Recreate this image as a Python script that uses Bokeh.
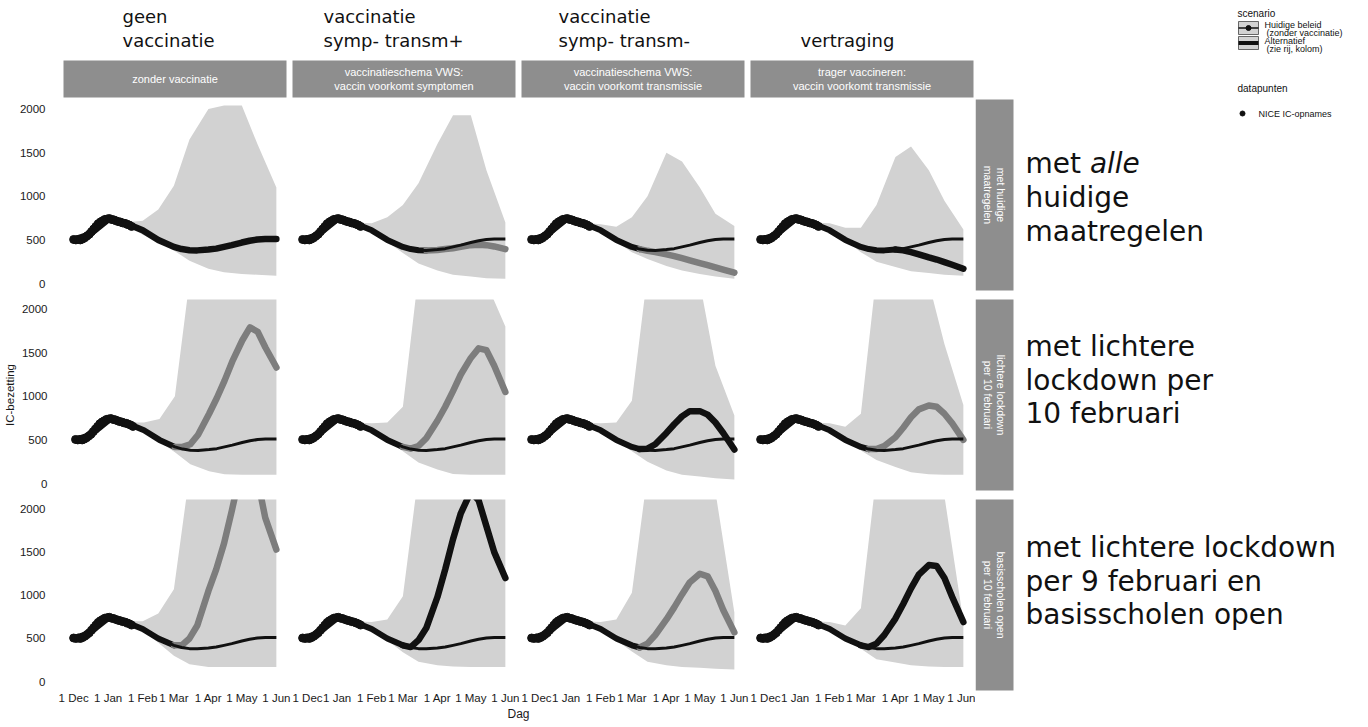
import numpy as np
import pandas as pd
from bokeh.plotting import figure
from bokeh.layouts import row, column
from bokeh.models import Range1d, FixedTicker
from bokeh.core.properties import value
from bokeh.embed import file_html
from bokeh.resources import INLINE

# ---------------- data ----------------
ORIGIN = pd.Timestamp("2020-12-01")

tick_dates = ["2020-12-01", "2021-01-01", "2021-02-01", "2021-03-01", "2021-04-01", "2021-05-01", "2021-06-01"]
tick_labels = ["1 Dec", "1 Jan", "1 Feb", "1 Mar", "1 Apr", "1 May", "1 Jun"]
y_ticks = [0, 500, 1000, 1500, 2000]

col_titles_1 = ["geen", "vaccinatie", "vaccinatie", ""]
col_titles_2 = ["vaccinatie", "symp- transm+", "symp- transm-", "vertraging"]
col_strips = ["zonder vaccinatie",
              "vaccinatieschema VWS:\nvaccin voorkomt symptomen",
              "vaccinatieschema VWS:\nvaccin voorkomt transmissie",
              "trager vaccineren:\nvaccin voorkomt transmissie"]
row_strips = ["met huidige\nmaatregelen",
              "lichtere lockdown\nper 10 februari",
              "basisscholen open\nper 10 februari"]

# model curve dates
grid_dates = ["2020-12-01", "2020-12-15", "2021-01-01", "2021-01-15", "2021-02-01", "2021-02-15",
              "2021-03-01", "2021-03-08", "2021-03-15", "2021-03-22", "2021-04-01", "2021-04-08",
              "2021-04-15", "2021-04-22", "2021-05-01", "2021-05-08", "2021-05-15", "2021-05-22",
              "2021-06-01"]
baseline = [500, 560, 735, 700, 610, 500, 420, 395, 382, 380, 390, 400, 420, 440, 470, 490, 505, 510, 510]

alt_r1c1 = [500, 560, 735, 700, 610, 500, 420, 395, 382, 380, 390, 400, 420, 440, 470, 490, 505, 510, 510]
alt_r1c2 = [500, 560, 735, 700, 610, 500, 420, 395, 382, 380, 385, 395, 405, 420, 440, 445, 440, 425, 395]
alt_r1c3 = [500, 560, 735, 700, 610, 500, 420, 395, 375, 360, 335, 315, 290, 265, 235, 210, 185, 160, 125]
alt_r1c4 = [500, 560, 735, 700, 610, 500, 420, 395, 382, 380, 390, 380, 360, 335, 300, 275, 245, 215, 170]
alt_r2c1 = [500, 560, 735, 700, 610, 500, 420, 420, 450, 560, 800, 980, 1180, 1400, 1640, 1790, 1740, 1560, 1330]
alt_r2c2 = [500, 560, 735, 700, 610, 500, 420, 400, 430, 520, 720, 880, 1060, 1250, 1440, 1550, 1530, 1350, 1050]
alt_r2c3 = [500, 560, 735, 700, 610, 500, 420, 395, 400, 450, 580, 680, 770, 830, 830, 790, 700, 580, 390]
alt_r2c4 = [500, 560, 735, 700, 610, 500, 420, 395, 395, 430, 530, 640, 760, 850, 895, 880, 800, 690, 500]
alt_r3c1 = [500, 560, 735, 700, 610, 500, 420, 420, 500, 650, 1050, 1300, 1600, 1980, 2500, 2700, 2350, 1900, 1530]
alt_r3c2 = [500, 560, 735, 700, 610, 500, 420, 400, 480, 620, 980, 1300, 1650, 1950, 2200, 2100, 1800, 1500, 1200]
alt_r3c3 = [500, 560, 735, 700, 610, 500, 420, 395, 440, 540, 720, 860, 1010, 1150, 1250, 1220, 1050, 830, 570]
alt_r3c4 = [500, 560, 735, 700, 610, 500, 420, 400, 440, 540, 730, 900, 1080, 1240, 1350, 1340, 1200, 980, 690]

# uncertainty band
band_dates = ["2021-01-15", "2021-02-01", "2021-02-15", "2021-03-01", "2021-03-15",
              "2021-04-01", "2021-04-15", "2021-05-01", "2021-05-15", "2021-06-01"]
hi_r1c1 = [700, 720, 850, 1120, 1650, 2000, 2040, 2040, 1600, 1100]
lo_r1c1 = [690, 560, 470, 380, 260, 170, 130, 110, 100, 90]
hi_r1c2 = [700, 690, 760, 900, 1150, 1600, 1930, 1930, 1300, 700]
lo_r1c2 = [690, 600, 480, 350, 230, 150, 100, 80, 60, 55]
hi_r1c3 = [700, 680, 650, 760, 1000, 1500, 1400, 1100, 800, 660]
lo_r1c3 = [690, 600, 480, 360, 280, 200, 150, 110, 80, 55]
hi_r1c4 = [700, 690, 640, 640, 900, 1450, 1570, 1300, 950, 620]
lo_r1c4 = [690, 620, 500, 360, 250, 190, 140, 120, 100, 90]
hi_r2c1 = [700, 700, 740, 1000, 2400, 2500, 2500, 2500, 2500, 2500]
lo_r2c1 = [690, 600, 480, 360, 220, 140, 105, 100, 100, 100]
hi_r2c2 = [700, 690, 700, 880, 2400, 2500, 2500, 2500, 2300, 1800]
lo_r2c2 = [690, 610, 490, 370, 240, 160, 110, 100, 100, 100]
hi_r2c3 = [700, 690, 700, 950, 2400, 2500, 2500, 2300, 1350, 780]
lo_r2c3 = [690, 610, 490, 370, 250, 150, 100, 80, 60, 45]
hi_r2c4 = [700, 690, 650, 800, 2400, 2500, 2500, 2300, 1600, 900]
lo_r2c4 = [690, 620, 500, 380, 270, 190, 130, 105, 100, 100]
hi_r3c1 = [700, 700, 790, 1070, 2400, 2500, 2500, 2500, 2500, 2500]
lo_r3c1 = [690, 590, 450, 300, 200, 170, 170, 170, 170, 170]
hi_r3c2 = [700, 690, 720, 990, 2400, 2500, 2500, 2500, 2500, 2500]
lo_r3c2 = [690, 600, 480, 340, 230, 190, 175, 170, 170, 170]
hi_r3c3 = [700, 690, 720, 1030, 2400, 2500, 2500, 2500, 2200, 800]
lo_r3c3 = [690, 600, 480, 350, 230, 190, 170, 160, 150, 140]
hi_r3c4 = [700, 690, 650, 850, 2400, 2500, 2500, 2500, 2150, 700]
lo_r3c4 = [690, 620, 500, 380, 260, 220, 190, 175, 170, 170]

# NICE IC-opnames (data points)
nice_dates = ["2020-12-01", "2020-12-03", "2020-12-05", "2020-12-07", "2020-12-09", "2020-12-11",
              "2020-12-13", "2020-12-15", "2020-12-17", "2020-12-19", "2020-12-21", "2020-12-23",
              "2020-12-25", "2020-12-27", "2020-12-29", "2020-12-31", "2021-01-02", "2021-01-04",
              "2021-01-06", "2021-01-08", "2021-01-10", "2021-01-12", "2021-01-14", "2021-01-16",
              "2021-01-18", "2021-01-20", "2021-01-22"]
nice_values = [505, 500, 505, 500, 510, 525, 545, 565, 595, 625, 655, 685, 705, 720, 735, 740,
               745, 735, 730, 720, 710, 705, 695, 690, 680, 670, 655]

alts = [[alt_r1c1, alt_r1c2, alt_r1c3, alt_r1c4],
        [alt_r2c1, alt_r2c2, alt_r2c3, alt_r2c4],
        [alt_r3c1, alt_r3c2, alt_r3c3, alt_r3c4]]
his = [[hi_r1c1, hi_r1c2, hi_r1c3, hi_r1c4],
       [hi_r2c1, hi_r2c2, hi_r2c3, hi_r2c4],
       [hi_r3c1, hi_r3c2, hi_r3c3, hi_r3c4]]
los = [[lo_r1c1, lo_r1c2, lo_r1c3, lo_r1c4],
       [lo_r2c1, lo_r2c2, lo_r2c3, lo_r2c4],
       [lo_r3c1, lo_r3c2, lo_r3c3, lo_r3c4]]

# ---------------- styles / layout ----------------
BLACK = "#111111"
GREY = "#7d7d7d"
alt_colours = [[BLACK, GREY, GREY, BLACK],
               [GREY, GREY, BLACK, GREY],
               [GREY, BLACK, GREY, BLACK]]
BAND = "#d2d2d2"
STRIP = "#8e8e8e"
FRAME_W, FRAME_H = 223, 191
LEFT_BORDER = 63
COL_LEFT = [63, 292, 521, 750]
ROW_TOP = [99, 299, 499]
SANS = "Liberation Sans"
VERD = "DejaVu Sans"
TICK_SIZE = "11.5px"


def days(ds):
    return [(pd.Timestamp(d) - ORIGIN).days for d in ds]


tick_days = days(tick_dates)
gx = days(grid_dates)
bx = days(band_dates)
nx = days(nice_dates)


def clean(p):
    p.xgrid.grid_line_color = None
    p.ygrid.grid_line_color = None
    p.outline_line_color = None
    p.background_fill_color = "white"
    p.border_fill_color = "white"


def style_axis(ax, standoff):
    ax.major_label_text_font = SANS
    ax.major_label_text_font_size = TICK_SIZE
    ax.major_label_text_color = "#1a1a1a"
    ax.major_tick_line_color = None
    ax.major_tick_out = 0
    ax.major_tick_in = 0
    ax.minor_tick_line_color = None
    ax.axis_line_color = None
    ax.major_label_standoff = standoff


def panel(r, c):
    left = LEFT_BORDER if c == 0 else 0
    right = 2 if c == 3 else 6
    bottom = 16 if r == 2 else 9
    p = figure(width=left + FRAME_W + right, height=FRAME_H + bottom,
               x_range=Range1d(-9.1, 191.1), y_range=Range1d(-80, 2110),
               output_backend="svg", toolbar_location=None, title=None,
               x_axis_location=("below" if r == 2 else None),
               y_axis_location=("left" if c == 0 else None),
               min_border_left=left, min_border_right=right,
               min_border_top=0, min_border_bottom=bottom)
    clean(p)
    # band
    p.varea(x=bx, y1=los[r][c], y2=his[r][c], fill_color=BAND, fill_alpha=1.0)
    base = np.array(baseline)
    alt = np.array(alts[r][c])
    diff = alt != base
    if diff.any():
        k = int(np.argmax(diff))
        p.line(gx[:k], alt[:k], line_color=BLACK, line_width=6, line_cap="round", line_join="round")
        p.line(gx[k - 1:], alt[k - 1:], line_color=alt_colours[r][c], line_width=6.5,
               line_cap="round", line_join="round")
    else:
        p.line(gx, alt, line_color=BLACK, line_width=6.5, line_cap="round", line_join="round")
    p.line(gx, baseline, line_color=BLACK, line_width=3, line_join="round")
    p.scatter(nx, nice_values, size=8, color=BLACK)

    if c == 0:
        ax = p.yaxis[0]
        ax.ticker = FixedTicker(ticks=y_ticks)
        style_axis(ax, 18)
        if r == 1:
            ax.axis_label = "IC-bezetting"
            ax.axis_label_text_font = SANS
            ax.axis_label_text_font_size = "11.5px"
            ax.axis_label_text_font_style = "normal"
            ax.axis_label_text_color = "#1a1a1a"
            ax.axis_label_standoff = 3
    if r == 2:
        ax = p.xaxis[0]
        ax.ticker = FixedTicker(ticks=tick_days)
        ax.major_label_overrides = {d: lab for d, lab in zip(tick_days, tick_labels)}
        style_axis(ax, 3)
    return p


def canvas(w, h, x0, x1, y0, y1):
    p = figure(width=w, height=h, x_range=Range1d(x0, x1), y_range=Range1d(y1, y0),
               output_backend="svg", toolbar_location=None, title=None,
               x_axis_location=None, y_axis_location=None,
               min_border_left=0, min_border_right=0, min_border_top=0, min_border_bottom=0)
    clean(p)
    return p


# header: column titles and top strips (page coordinates)
hdr = canvas(975, 99, 0, 975, 0, 99)
hdr.quad(left=COL_LEFT, right=[x + FRAME_W for x in COL_LEFT], top=[60] * 4, bottom=[97] * 4,
         fill_color=STRIP, line_color=None)
hdr.text(x=[x + FRAME_W / 2 for x in COL_LEFT], y=[78.5] * 4, text=col_strips,
         text_align="center", text_baseline="middle", text_color="white",
         text_font=value(SANS), text_font_size="11px", text_line_height=1.1)
title_x = [122, 323, 558, 800]
hdr.text(x=title_x, y=[16] * 4, text=col_titles_1,
         text_align="left", text_baseline="middle", text_color="#111111",
         text_font=value(VERD), text_font_size="18px")
hdr.text(x=title_x, y=[40] * 4, text=col_titles_2,
         text_align="left", text_baseline="middle", text_color="#111111",
         text_font=value(VERD), text_font_size="18px")

panel_rows = [row([panel(r, c) for c in range(4)]) for r in range(3)]

footer = canvas(975, 16, 0, 975, 706, 722)
footer.text(x=[518], y=[713], text=["Dag"], text_align="center", text_baseline="middle",
            text_font=value(SANS), text_font_size="12px", text_color="#1a1a1a")

# right side: row strips, legend, annotations
rt = canvas(393, 722, 975, 1368, 0, 722)
rt.quad(left=[975] * 3, right=[1013] * 3, top=ROW_TOP, bottom=[t + FRAME_H for t in ROW_TOP],
        fill_color=STRIP, line_color=None)
rt.text(x=[994] * 3, y=[t + FRAME_H / 2 for t in ROW_TOP], text=row_strips, angle=-np.pi / 2,
        text_align="center", text_baseline="middle", text_color="white",
        text_font=value(SANS), text_font_size="10.5px", text_line_height=1.1)

# legend
rt.text(x=[1237, 1237], y=[13, 88], text=["scenario", "datapunten"], text_baseline="middle",
        text_font=value(SANS), text_font_size="10px", text_color="#111111")
rt.quad(left=[1238, 1238], right=[1258, 1258], top=[21, 36], bottom=[34, 49],
        fill_color=BAND, line_color="#444444", line_width=0.8)
rt.line([1238, 1258], [27.5, 27.5], line_color=BLACK, line_width=1.5)
rt.scatter([1248], [27.5], size=5, color=BLACK)
rt.line([1238, 1258], [42.5, 42.5], line_color=BLACK, line_width=4)
rt.text(x=[1264, 1266, 1264, 1266], y=[24, 32, 40, 48],
        text=["Huidige beleid", "(zonder vaccinatie)", "Alternatief", "(zie rij, kolom)"],
        text_baseline="middle", text_font=value(SANS), text_font_size="9px", text_color="#111111")
rt.scatter([1242], [113], size=5, color=BLACK)
rt.text(x=[1258], y=[113], text=["NICE IC-opnames"], text_baseline="middle",
        text_font=value(SANS), text_font_size="9px", text_color="#111111")

# annotations
NOTE_PX = 28
NOTE_SIZE = f"{NOTE_PX}px"
rt.text(x=[1025], y=[163], text=["met "], text_baseline="middle",
        text_font=value(VERD), text_font_size=NOTE_SIZE, text_color="#111111")
rt.text(x=[1025 + 2.3 * NOTE_PX], y=[163], text=["alle"], text_baseline="middle",
        text_font=value(VERD), text_font_size=NOTE_SIZE, text_font_style="italic", text_color="#111111")
note_x = [1025] * 8
note_y = [197, 231, 346, 380, 413, 547, 581, 614]
note_text = ["huidige", "maatregelen",
             "met lichtere", "lockdown per", "10 februari",
             "met lichtere lockdown", "per 9 februari en", "basisscholen open"]
rt.text(x=note_x, y=note_y, text=note_text, text_baseline="middle",
        text_font=value(VERD), text_font_size=NOTE_SIZE, text_color="#111111")

left_block = column([hdr] + panel_rows + [footer])
layout = row([left_block, rt])

open("out.html", "w").write(file_html(layout, INLINE))
